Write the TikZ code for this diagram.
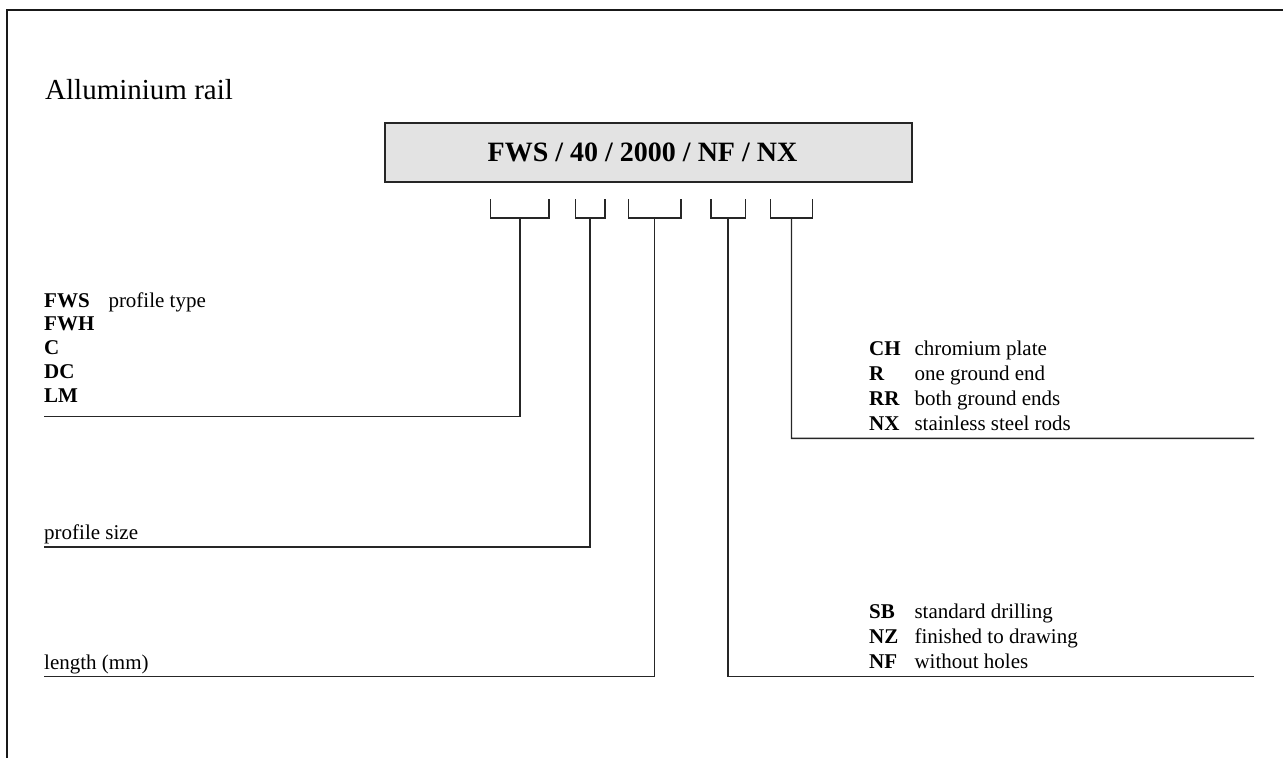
\documentclass[tikz,border=0pt]{standalone}
\usepackage{fontspec}
\setmainfont{Liberation Serif}
\usetikzlibrary{calc}
\begin{document}
\begin{tikzpicture}[x=1pt,y=-1pt,
  lbl/.style={anchor=base west,inner sep=0pt,font=\fontsize{21}{25}\selectfont},
  code/.style={lbl,font=\fontsize{21}{25}\selectfont\bfseries},
  codebox/.style={draw=black!85,line width=1.6pt,fill=black!11,minimum width=527pt,minimum height=59pt,inner sep=0pt,font=\fontsize{28}{33}\selectfont\bfseries},
  conn/.style={draw=black!85,line width=1.4pt},
  framel/.style={draw=black!90,line width=1.8pt}]
\useasboundingbox (0,0) rectangle (1283,758);
% frame (top and left edges only)
\coordinate (f1) at (7,10);
\coordinate (f2) at (1283,10);
\coordinate (f3) at (7,758);
\draw[framel] (f2) -- (f1) -- (f3);
% title
\node[lbl,font=\fontsize{29}{34}\selectfont] (title) at (45,99) {Alluminium rail};
% code box
\node[codebox] (code) at (648.5,152.5) {FWS / 40 / 2000 / NF / NX\hspace*{12pt}};
% brackets: left, right, stem y, end x
\foreach \n/\L/\R/\Y/\E in {1/490.7/549/416.7/44, 2/575.3/605/547/44, 3/628.3/681/676.7/44, 4/711/745.3/676.7/1254, 5/770.7/812.3/438.3/1254}{
  \coordinate (b\n a) at (\L,199.3);
  \coordinate (b\n b) at (\L,218);
  \coordinate (b\n c) at (\R,218);
  \coordinate (b\n d) at (\R,199.3);
  \coordinate (s\n) at ($(b\n b)!0.5!(b\n c)$);
  \coordinate (t\n) at ({0.5*(\L+\R)},\Y);
  \coordinate (e\n) at (\E,\Y);
  \draw[conn,line join=miter] (b\n a) -- (b\n b) -- (b\n c) -- (b\n d);
  \draw[conn] (s\n) -- (t\n) -- (e\n);
}
% left list: profile type
\node[code] (fws) at (44,307) {FWS};
\node[lbl] (ptype) at (108.3,307) {profile type};
\node[code] (fwh) at (44,330.75) {FWH};
\node[code] (c) at (44,354.5) {C};
\node[code] (dc) at (44,378.25) {DC};
\node[code] (lm) at (44,402) {LM};
% profile size and length
\node[lbl] (psize) at (44,539) {profile size};
\node[lbl] (len) at (44,669) {length (mm)};
% right top list
\node[code] (ch) at (869,355) {CH};
\node[lbl] (chd) at (914.3,355) {chromium plate};
\node[code] (r) at (869,380.2) {R};
\node[lbl] (rd) at (914.3,380.2) {one ground end};
\node[code] (rr) at (869,405.4) {RR};
\node[lbl] (rrd) at (914.3,405.4) {both ground ends};
\node[code] (nx) at (869,430.6) {NX};
\node[lbl] (nxd) at (914.3,430.6) {stainless steel rods};
% right bottom list
\node[code] (sb) at (869,618.7) {SB};
\node[lbl] (sbd) at (914.3,618.7) {standard drilling};
\node[code] (nz) at (869,643.7) {NZ};
\node[lbl] (nzd) at (914.3,643.7) {finished to drawing};
\node[code] (nf) at (869,668.7) {NF};
\node[lbl] (nfd) at (914.3,668.7) {without holes};
\end{tikzpicture}
\end{document}
